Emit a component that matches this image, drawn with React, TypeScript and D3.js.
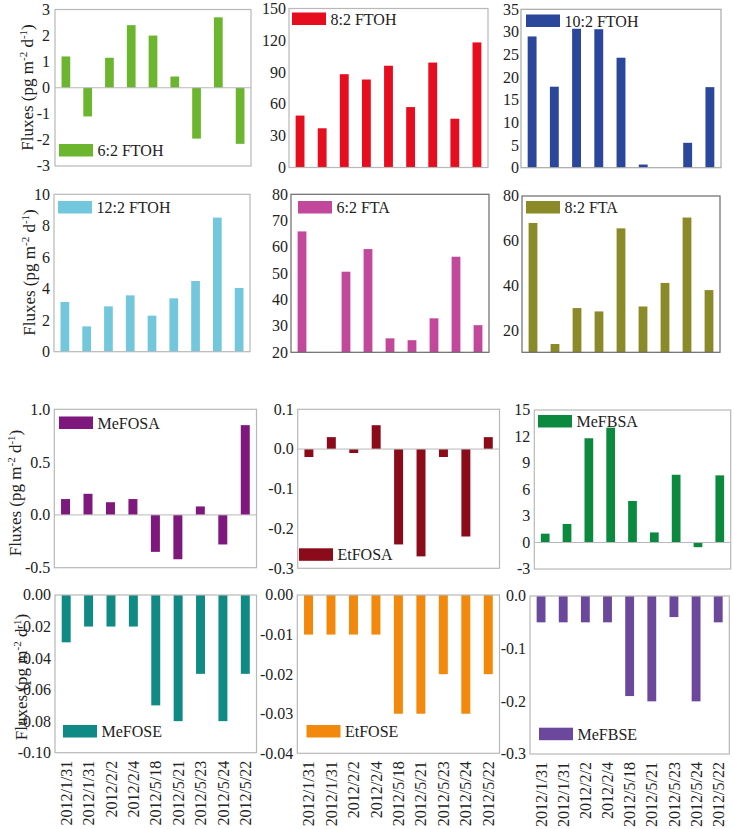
import React from "react";
import * as d3 from "d3";

const dates = ["2012/1/31", "2012/1/31", "2012/2/2", "2012/2/4", "2012/5/18", "2012/5/21", "2012/5/23", "2012/5/24", "2012/5/22"];

const ftoh62 = [1.2, -1.1, 1.15, 2.4, 2.0, 0.43, -1.95, 2.7, -2.15];
const ftoh82 = [49, 37, 88, 83, 96, 57, 99, 46, 118];
const ftoh102 = [29, 17.9, 30.7, 30.6, 24.3, 0.7, 0, 5.5, 17.8];
const ftoh122 = [3.16, 1.61, 2.88, 3.58, 2.29, 3.39, 4.49, 8.52, 4.05];
const fta62 = [65.9, 0, 50.6, 59.2, 25.3, 24.6, 32.9, 56.3, 30.3];
const fta82 = [68, 14.1, 30.1, 28.6, 65.6, 30.8, 41.3, 70.4, 38.1];
const mefosa = [0.15, 0.2, 0.12, 0.15, -0.35, -0.42, 0.08, -0.28, 0.85];
const etfosa = [-0.02, 0.03, -0.01, 0.06, -0.24, -0.27, -0.02, -0.22, 0.03];
const mefbsa = [1.0, 2.1, 11.8, 13.0, 4.7, 1.14, 7.67, -0.53, 7.6];
const mefose = [-0.03, -0.02, -0.02, -0.02, -0.07, -0.08, -0.05, -0.08, -0.05];
const etfose = [-0.01, -0.01, -0.01, -0.01, -0.03, -0.03, -0.02, -0.03, -0.02];
const mefbse = [-0.05, -0.05, -0.05, -0.05, -0.19, -0.2, -0.04, -0.2, -0.05];

const ticks62ftoh = [-3, -2, -1, 0, 1, 2, 3];
const ticks82ftoh = [0, 30, 60, 90, 120, 150];
const ticks102ftoh = [0, 5, 10, 15, 20, 25, 30, 35];
const ticks122ftoh = [0, 2, 4, 6, 8, 10];
const ticks62fta = [20, 30, 40, 50, 60, 70, 80];
const ticks82fta = [20, 40, 60, 80];
const ticksMefosa = [-0.5, 0, 0.5, 1.0];
const ticksEtfosa = [-0.3, -0.2, -0.1, 0, 0.1];
const ticksMefbsa = [-3, 0, 3, 6, 9, 12, 15];
const ticksMefose = [-0.1, -0.08, -0.06, -0.04, -0.02, 0];
const ticksEtfose = [-0.04, -0.03, -0.02, -0.01, 0];
const ticksMefbse = [-0.3, -0.2, -0.1, 0];

type Panel = {
  name: string;
  values: number[];
  color: string;
  domain: [number, number];
  ticks: number[];
  dec: number;
  x0: number; x1: number; y0: number; y1: number;
  lx: number; ly: number;
  frame: string;
  zeroLine: boolean;
  tickGap: number;
};

const TXT = { fontFamily: "Liberation Serif" };

const panels: Panel[] = [
  { name: "6:2 FTOH", values: ftoh62, color: "#6cb52f", domain: [-3, 3], ticks: ticks62ftoh, dec: 0, x0: 55, x1: 251, y0: 9.5, y1: 166, lx: 59, ly: 144, frame: "#b8b8b8", zeroLine: true, tickGap: 5 },
  { name: "8:2 FTOH", values: ftoh82, color: "#e60d1f", domain: [0, 150], ticks: ticks82ftoh, dec: 0, x0: 289, x1: 488, y0: 8.5, y1: 167.5, lx: 292, ly: 12.5, frame: "#b8b8b8", zeroLine: false, tickGap: 3 },
  { name: "10:2 FTOH", values: ftoh102, color: "#2b479c", domain: [0, 35], ticks: ticks102ftoh, dec: 0, x0: 521, x1: 721, y0: 9.3, y1: 167.7, lx: 526, ly: 14.5, frame: "#a8a8a8", zeroLine: false, tickGap: 2 },
  { name: "12:2 FTOH", values: ftoh122, color: "#73c7dc", domain: [0, 10], ticks: ticks122ftoh, dec: 0, x0: 54, x1: 250, y0: 194.3, y1: 351.7, lx: 58, ly: 201, frame: "#b8b8b8", zeroLine: false, tickGap: 4 },
  { name: "6:2 FTA", values: fta62, color: "#c2489b", domain: [20, 80], ticks: ticks62fta, dec: 0, x0: 291, x1: 489, y0: 194.3, y1: 352.3, lx: 298, ly: 201, frame: "#6a6a6a", zeroLine: false, tickGap: 3 },
  { name: "8:2 FTA", values: fta82, color: "#8a8a29", domain: [10.4, 80], ticks: ticks82fta, dec: 0, x0: 522, x1: 720, y0: 196, y1: 352.3, lx: 526, ly: 201, frame: "#6a6a6a", zeroLine: false, tickGap: 3 },
  { name: "MeFOSA", values: mefosa, color: "#7e187c", domain: [-0.5, 1.0], ticks: ticksMefosa, dec: 1, x0: 54.3, x1: 256.5, y0: 409.3, y1: 567.7, lx: 59, ly: 416.5, frame: "#b8b8b8", zeroLine: true, tickGap: 4 },
  { name: "EtFOSA", values: etfosa, color: "#8c0b1a", domain: [-0.3, 0.1], ticks: ticksEtfosa, dec: 1, x0: 297.7, x1: 499.5, y0: 409.3, y1: 568.3, lx: 299, ly: 548.3, frame: "#b8b8b8", zeroLine: true, tickGap: 4 },
  { name: "MeFBSA", values: mefbsa, color: "#0b8a3f", domain: [-3, 15], ticks: ticksMefbsa, dec: 0, x0: 534.3, x1: 730.7, y0: 410, y1: 569, lx: 538, ly: 415, frame: "#b8b8b8", zeroLine: true, tickGap: 4 },
  { name: "MeFOSE", values: mefose, color: "#108a84", domain: [-0.1, 0], ticks: ticksMefose, dec: 2, x0: 55, x1: 256.5, y0: 595, y1: 752.7, lx: 63, ly: 725, frame: "#b8b8b8", zeroLine: false, tickGap: 4 },
  { name: "EtFOSE", values: etfose, color: "#f2890d", domain: [-0.04, 0], ticks: ticksEtfose, dec: 2, x0: 297.3, x1: 499.5, y0: 595, y1: 753.3, lx: 306.5, ly: 725, frame: "#b8b8b8", zeroLine: false, tickGap: 4 },
  { name: "MeFBSE", values: mefbse, color: "#6b489c", domain: [-0.3, 0], ticks: ticksMefbse, dec: 1, x0: 530, x1: 729.3, y0: 596, y1: 754, lx: 539, ly: 727.7, frame: "#b8b8b8", zeroLine: false, tickGap: 4 },
];

const fmt = (v: number, dec: number) => {
  const s = Math.abs(v).toFixed(dec);
  return (v < -1e-9 ? "-" : "") + s;
};

function PanelView({ p, showX }: { p: Panel; showX: boolean }) {
  const x = d3.scaleBand<number>().domain(d3.range(p.values.length)).range([p.x0, p.x1]).paddingInner(0.6).paddingOuter(0.3);
  const y = d3.scaleLinear().domain(p.domain).range([p.y1, p.y0]);
  const base = Math.max(p.domain[0], Math.min(p.domain[1], 0));
  return (
    <g>
      {p.values.map((v, i) => {
        const vc = Math.max(p.domain[0], Math.min(p.domain[1], v));
        const ya = y(base), yb = y(vc);
        return (
          <rect key={i} x={x(i)} width={x.bandwidth()} y={Math.min(ya, yb)} height={Math.abs(ya - yb)} fill={p.color} />
        );
      })}
      {p.zeroLine && <line x1={p.x0} x2={p.x1} y1={y(0)} y2={y(0)} stroke={p.frame} strokeWidth={1} />}
      <rect x={p.x0} y={p.y0} width={p.x1 - p.x0} height={p.y1 - p.y0} fill="none" stroke={p.frame} strokeWidth={1.2} />
      {p.ticks.map((t) => (
        <text key={t} x={p.x0 - p.tickGap} y={y(t)} dy="0.34em" textAnchor="end" fontSize={16} style={TXT} fill="#222">
          {fmt(t, p.dec)}
        </text>
      ))}
      <rect x={p.lx} y={p.ly} width={34} height={12.5} fill={p.color} />
      <text x={p.lx + 38.5} y={p.ly + 12} fontSize={16} style={TXT} fill="#222">{p.name}</text>
      {showX && dates.map((d, i) => {
        const cx = (x(i) as number) + x.bandwidth() / 2;
        const ty = p.y1 + 8;
        return (
          <text key={i} transform={`translate(${cx},${ty}) rotate(-90)`} dy="0.35em" textAnchor="end" fontSize={16} style={TXT} fill="#222">{d}</text>
        );
      })}
    </g>
  );
}

const titlePos = [[27, 87.5], [29, 272.5], [15, 493], [21, 677]];

export default function App() {
  return (
    <svg width={734} height={829} style={{ position: "absolute", left: 0, top: 0, background: "#fff" }}>
      <rect width={734} height={829} fill="#fff" />
      {panels.map((p, i) => (
        <PanelView key={p.name} p={p} showX={i >= 9} />
      ))}
      {titlePos.map(([tx, cy], i) => (
        <text key={i} transform={`translate(${tx},${cy}) rotate(-90)`} textAnchor="middle" dy="0.35em" fontSize={17} style={TXT} fill="#222">
          Fluxes (pg m<tspan dy="-6" fontSize={11}>-2</tspan><tspan dy="6"> d</tspan><tspan dy="-6" fontSize={11}>-1</tspan><tspan dy="6">)</tspan>
        </text>
      ))}
    </svg>
  );
}
